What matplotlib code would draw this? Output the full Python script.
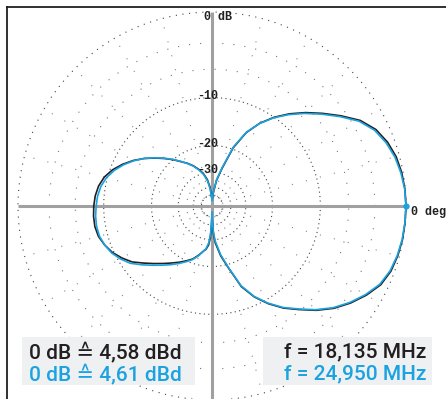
import numpy as np
import matplotlib
matplotlib.use('Agg')
import matplotlib.pyplot as plt
from matplotlib.lines import Line2D
from matplotlib.patches import Rectangle

# pattern data, angle in deg (ccw from 0 deg = right), level in dB
ang = [0, 5, 10, 15, 20, 25, 30, 35, 40, 45, 50, 55, 60, 65, 70, 75, 80, 84, 87, 90,
       93, 96, 100, 105, 110, 115, 120, 125, 130, 135, 140, 145, 150, 155, 160, 165, 170,
       175, 180, 185, 190, 195, 200, 205, 210, 215, 220, 225, 230, 235, 240, 245, 250,
       255, 260, 262, 265, 267, 268.5, 270, 271.5, 273, 275, 280, 285, 290, 295, 300,
       305, 310, 315, 320, 325, 330, 335, 340, 345, 350, 355, 360]
db_18 = [0, -0.03, -0.12, -0.3, -0.65, -1.2, -2.15, -3.6, -5.1, -6.6, -8.2, -10.0, -12.15,
         -15.0, -19.6, -27.5, -34.5, -45, -55, -60, -50, -40, -34, -30, -27.5, -25.3, -23.5,
         -21.9, -20.0, -18.2, -16.4, -14.6, -13.0, -11.6, -10.4, -9.5, -8.95, -8.65, -8.5,
         -8.4, -8.4, -8.6, -9.1, -9.75, -10.7, -11.8, -13.4, -14.9, -16.3, -17.6, -18.8,
         -20.0, -21.2, -23, -25, -25.5, -27.5, -31, -40, -55, -40, -33, -28.5, -23, -18.9,
         -14.0, -11.3, -9.3, -7.6, -6.2, -4.7, -3.4, -2.35, -1.45, -0.7, -0.32, -0.15,
         -0.05, -0.02, 0]
db_25 = [0, -0.05, -0.2, -0.42, -0.8, -1.35, -2.3, -3.75, -5.25, -6.75, -8.35, -10.1, -12.2,
         -14.9, -19.3, -27, -34, -44, -56, -62, -52, -42, -35, -30.5, -27.8, -25.5, -23.6,
         -21.8, -19.9, -18.1, -16.3, -14.6, -13.1, -11.8, -10.7, -9.85, -9.3, -9.0, -8.85,
         -8.7, -8.65, -8.75, -9.1, -9.6, -10.4, -11.4, -12.9, -14.4, -15.8, -17.1, -18.4,
         -19.7, -21.0, -22.8, -25, -25.8, -28.5, -33, -44, -60, -44, -35, -29.5, -23.5,
         -19.1, -14.2, -11.4, -9.4, -7.7, -6.3, -4.8, -3.5, -2.45, -1.55, -0.8, -0.4,
         -0.2, -0.08, -0.03, 0]

rings = [0, -3, -6, -10, -20, -30, -40, -50]
ring_labels = {-10: '-10', -20: '-20', -30: '-30'}
ref_text = ['0 dB \u2259 4,58 dBd', '0 dB \u2259 4,61 dBd']
freq_text = ['f = 18,135 MHz', 'f = 24,950 MHz']

BLACK = '#231f20'
BLUE = '#1aa3e0'

W, H = 446, 399
CX, CY = 212, 206   # centre of the diagram, px from top left
R_PX = 194
RMAX = 1.05


def arrl(db):
    # ARRL log scale: 2 dB per 0.89
    return 0.89 ** (-np.asarray(db, dtype=float) / 2.0)


fig = plt.figure(figsize=(W / 100, H / 100), dpi=100)
half = R_PX * RMAX
ax = fig.add_axes([(CX - half) / W, (H - CY - half) / H, 2 * half / W, 2 * half / H],
                  projection='polar')
ax.set_rlim(0, RMAX)
ax.axis('off')

th = np.linspace(0, 2 * np.pi, 721)
for db in rings:
    if db in (-3, -6):
        ls, c = (0, (1, 9)), '#777777'
    elif db == 0:
        ls, c = (0, (1, 5)), '#444444'
    else:
        ls, c = (0, (1, 3)), '#444444'
    ax.plot(th, np.full_like(th, arrl(db)), ls=ls, color=c, lw=0.8)

for a in range(0, 360, 15):
    t = np.deg2rad(a)
    ax.plot([t, t], [arrl(-50), 1.0], ls=(0, (1, 12)), color='#888888', lw=0.8)

# axes cross
for a in (0, 90, 180, 270):
    t = np.deg2rad(a)
    ax.plot([t, t], [0, 1.0], color='#a0a0a0', lw=2.2, solid_capstyle='butt', zorder=3)

ax.plot(np.deg2rad(ang), arrl(db_18), color=BLACK, lw=1.2, zorder=4)
ax.plot(np.deg2rad(ang), arrl(db_25), color=BLUE, lw=1.2, zorder=5)
ax.plot([0], [1.0], 'o', color=BLUE, ms=3.5, zorder=6)

lab_kw = dict(family=['Liberation Mono', 'DejaVu Sans Mono'], fontweight='bold',
              fontsize=8.5, color='#222222', textcoords='offset pixels', zorder=6)
for db, s in ring_labels.items():
    ax.annotate(s, xy=(np.pi / 2, arrl(db)), xytext=(-4, 2), ha='center', va='center', **lab_kw)
ax.annotate('0 dB', xy=(np.pi / 2, 1.0), xytext=(6, -5), ha='center', va='center', **lab_kw)
ax.annotate('0 deg', xy=(0, 1.0), xytext=(5, -6), ha='left', va='center',
            annotation_clip=False, **lab_kw)

# frame
fig.add_artist(Line2D([7 / W, 7 / W], [0, 1 - 7 / H], color=BLACK, lw=1.3))
fig.add_artist(Line2D([7 / W, 1], [1 - 7 / H, 1 - 7 / H], color=BLACK, lw=1.3))

# legend boxes
for x0, x1 in ((22, 195), (263, 432)):
    fig.add_artist(Rectangle((x0 / W, 1 - 385 / H), (x1 - x0) / W, 48 / H,
                             transform=fig.transFigure, facecolor='#eef0f2',
                             edgecolor='none', zorder=2))

txt_kw = dict(family=['Roboto', 'DejaVu Sans'], fontweight='medium', fontsize=15,
              va='center', zorder=3)
fig.text(29 / W, 1 - 352 / H, ref_text[0], ha='left', color=BLACK, **txt_kw)
fig.text(29 / W, 1 - 374 / H, ref_text[1], ha='left', color=BLUE, **txt_kw)
fig.text(426 / W, 1 - 352 / H, freq_text[0], ha='right', color=BLACK, **txt_kw)
fig.text(426 / W, 1 - 374 / H, freq_text[1], ha='right', color=BLUE, **txt_kw)

fig.savefig('out.png', dpi=100)
